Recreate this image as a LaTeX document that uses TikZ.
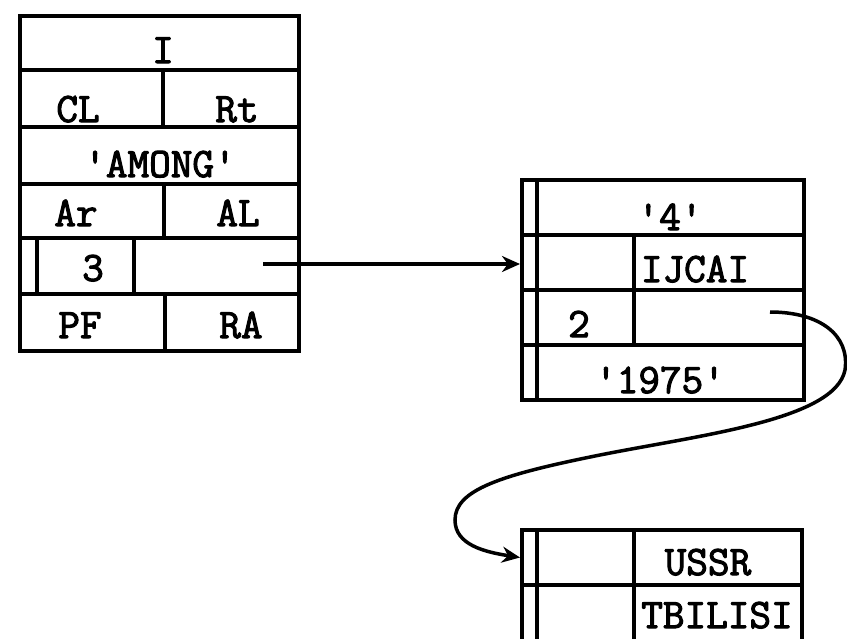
\documentclass[tikz,border=0pt]{standalone}
\usepackage{fontspec}
\newfontfamily\typefont[AutoFakeBold=2.5]{Latin Modern Mono}
\usetikzlibrary{arrows.meta}

\tikzset{
  cell/.style={draw, line width=4pt, inner sep=0pt, anchor=north west},
  txt/.style={anchor=base, inner sep=0pt, font=\typefont\bfseries\fontsize{42}{46}\selectfont},
  link/.style={-{Stealth[length=18pt,width=16pt]}, line width=3.5pt},
}

\begin{document}
\begin{tikzpicture}[x=1pt, y=-1pt]
  \useasboundingbox (0,0) rectangle (847,638);

  % left record
  \node[cell, minimum width=279pt, minimum height=54pt] (lrow1) at (18,14) {};
  \node[cell, minimum width=143pt, minimum height=57pt] (lcl) at (18,68) {};
  \node[cell, minimum width=136pt, minimum height=57pt] (lrt) at (161,68) {};
  \node[cell, minimum width=279pt, minimum height=57pt] (lrow3) at (18,125) {};
  \node[cell, minimum width=144pt, minimum height=54pt] (lar) at (18,182) {};
  \node[cell, minimum width=135pt, minimum height=54pt] (lal) at (162,182) {};
  \node[cell, minimum width=17pt, minimum height=56pt] (lbar) at (18,236) {};
  \node[cell, minimum width=97pt, minimum height=56pt] (lnum) at (35,236) {};
  \node[cell, minimum width=165pt, minimum height=56pt] (lptr) at (132,236) {};
  \node[cell, minimum width=145pt, minimum height=57pt] (lpf) at (18,292) {};
  \node[cell, minimum width=134pt, minimum height=57pt] (lra) at (163,292) {};

  \node[txt] (tI) at (163,63) {I};
  \node[txt] (tCL) at (78,122) {CL};
  \node[txt] (tRt) at (237,122) {Rt};
  \node[txt] (tAmong) at (160,177) {'AMONG'};
  \node[txt] (tAr) at (76,226) {Ar};
  \node[txt] (tAL) at (238,226) {AL};
  \node[txt] (t3) at (93,281) {3};
  \node[txt] (tPF) at (80,338) {PF};
  \node[txt] (tRA) at (241,338) {RA};

  % middle record
  \node[cell, minimum width=15pt, minimum height=55pt] (m1bar) at (520,178) {};
  \node[cell, minimum width=267pt, minimum height=55pt] (m1) at (535,178) {};
  \node[cell, minimum width=15pt, minimum height=55pt] (m2bar) at (520,233) {};
  \node[cell, minimum width=97pt, minimum height=55pt] (m2a) at (535,233) {};
  \node[cell, minimum width=170pt, minimum height=55pt] (m2b) at (632,233) {};
  \node[cell, minimum width=15pt, minimum height=55pt] (m3bar) at (520,288) {};
  \node[cell, minimum width=97pt, minimum height=55pt] (m3a) at (535,288) {};
  \node[cell, minimum width=170pt, minimum height=55pt] (m3b) at (632,288) {};
  \node[cell, minimum width=15pt, minimum height=55pt] (m4bar) at (520,343) {};
  \node[cell, minimum width=267pt, minimum height=55pt] (m4) at (535,343) {};

  \node[txt] (t4) at (670,230) {'4'};
  \node[txt] (tIjcai) at (695,282) {IJCAI};
  \node[txt] (t2) at (579,337) {2};
  \node[txt] (t1975) at (660,393) {'1975'};

  % bottom record
  \node[cell, minimum width=15pt, minimum height=55pt] (b1bar) at (520,528) {};
  \node[cell, minimum width=97pt, minimum height=55pt] (b1a) at (535,528) {};
  \node[cell, minimum width=168pt, minimum height=55pt] (b1b) at (632,528) {};
  \node[cell, minimum width=15pt, minimum height=58pt] (b2bar) at (520,583) {};
  \node[cell, minimum width=97pt, minimum height=58pt] (b2a) at (535,583) {};
  \node[cell, minimum width=168pt, minimum height=58pt] (b2b) at (632,583) {};

  \node[txt] (tUssr) at (708,575) {USSR};
  \node[txt] (tTbilisi) at (717,628) {TBILISI};

  % pointers
  \coordinate (p1) at (263,264);
  \coordinate (p2) at (770,312);
  \draw[link] (p1) -- (p1 -| m2bar.west);
  \draw[link] (p2) .. controls (820,312) and (850,335) .. (845,370)
    .. controls (835,420) and (700,435) .. (600,455)
    .. controls (500,475) and (455,490) .. (455,520)
    .. controls (455,545) and (485,552) .. (b1bar.west);
\end{tikzpicture}
\end{document}
